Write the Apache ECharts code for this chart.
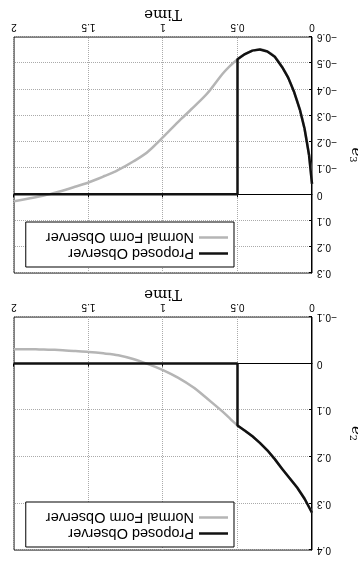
<!DOCTYPE html>
<html lang="en">
<head>
  <meta charset="UTF-8" />
  <title>Observer errors</title>
  <script src="https://cdn.jsdelivr.net/npm/echarts@6.0.0/dist/echarts.min.js"></script>
  <style>
    html, body { margin: 0; background: #fff; }
    /* the reference picture is printed upside down */
    #chart { width: 358px; height: 563px; transform: rotate(180deg); }
  </style>
</head>
<body>
  <div id="chart"></div>
  <script>
    // e2 panel
    const tE2Proposed = [0, 0.05, 0.1, 0.15, 0.2, 0.25, 0.3, 0.35, 0.4, 0.45, 0.5, 0.5, 2];
    const e2Proposed  = [0.320, 0.290, 0.266, 0.246, 0.226, 0.205, 0.186, 0.170, 0.156, 0.144, 0.133, 0, 0];
    const tE2Normal = [0, 0.05, 0.1, 0.15, 0.2, 0.25, 0.3, 0.35, 0.4, 0.45, 0.5, 0.55, 0.6, 0.7, 0.8, 0.9, 1.0, 1.1, 1.2, 1.3, 1.4, 1.5, 1.6, 1.7, 1.8, 1.9, 2.0];
    const e2Normal  = [0.320, 0.290, 0.266, 0.246, 0.226, 0.205, 0.186, 0.170, 0.156, 0.144, 0.133, 0.118, 0.103, 0.076, 0.050, 0.030, 0.014, 0.001, -0.010, -0.018, -0.022, -0.025, -0.027, -0.029, -0.030, -0.031, -0.031];

    // e3 panel
    const tE3Proposed = [0, 0.02, 0.05, 0.08, 0.12, 0.16, 0.2, 0.25, 0.3, 0.35, 0.4, 0.45, 0.5, 0.5, 2];
    const e3Proposed  = [-0.04, -0.15, -0.25, -0.32, -0.39, -0.445, -0.485, -0.525, -0.545, -0.552, -0.548, -0.535, -0.515, 0, 0];
    const tE3Normal = [0, 0.02, 0.05, 0.08, 0.12, 0.16, 0.2, 0.25, 0.3, 0.35, 0.4, 0.45, 0.5, 0.55, 0.6, 0.7, 0.8, 0.9, 1.0, 1.1, 1.2, 1.3, 1.4, 1.5, 1.6, 1.7, 1.8, 1.9, 2.0];
    const e3Normal  = [-0.04, -0.15, -0.25, -0.32, -0.39, -0.445, -0.485, -0.525, -0.545, -0.552, -0.548, -0.535, -0.515, -0.49, -0.46, -0.387, -0.33, -0.275, -0.218, -0.163, -0.125, -0.093, -0.068, -0.045, -0.027, -0.010, 0.005, 0.016, 0.026];

    const names = ['Proposed Observer', 'Normal Form Observer'];

    const pair = (t, v) => t.map((x, i) => [x, v[i]]);
    const sans = 'Liberation Sans, Arial, sans-serif';
    const serif = 'DejaVu Serif, serif';

    const makeX = (idx) => ({
      type: 'value', gridIndex: idx, min: 0, max: 2, interval: 0.5,
      name: 'Time', nameLocation: 'middle', nameGap: 15,
      nameTextStyle: { fontFamily: serif, fontSize: 15, color: '#000' },
      axisLine: { lineStyle: { color: '#000' } },
      axisTick: { inside: true, length: 3, lineStyle: { color: '#000' } },
      axisLabel: { fontFamily: sans, fontSize: 10, color: '#000', margin: 5 },
      splitLine: { show: true, lineStyle: { type: 'dotted', color: '#aaa' } }
    });
    const makeY = (idx, min, max, sub) => ({
      type: 'value', gridIndex: idx, min: min, max: max, interval: 0.1,
      name: '{e|e}{s|' + sub + '}', nameLocation: 'middle', nameGap: 31, nameRotate: 90,
      nameTextStyle: {
        rich: {
          e: { fontFamily: serif, fontStyle: 'italic', fontSize: 15, color: '#000' },
          s: { fontFamily: serif, fontSize: 10, color: '#000', verticalAlign: 'bottom', padding: [6, 0, 0, 0] }
        }
      },
      axisLine: { show: true, lineStyle: { color: '#000' } },
      axisTick: { inside: true, length: 3, lineStyle: { color: '#000' } },
      axisLabel: {
        fontFamily: sans, fontSize: 10, color: '#000', margin: 5,
        formatter: v => (Math.round(v * 10) / 10).toString().replace('-', '\u2212')
      },
      splitLine: { show: true, lineStyle: { type: 'dotted', color: '#aaa' } }
    });
    const makeLegend = (top) => ({
      top: top, left: 124, orient: 'vertical', data: names,
      backgroundColor: '#fff', borderColor: '#000', borderWidth: 1,
      padding: [6, 20, 8, 6], itemGap: 1, itemWidth: 29, itemHeight: 2.5, icon: 'rect',
      textStyle: { fontFamily: sans, fontSize: 14.5, color: '#000', lineHeight: 15 },
      selectedMode: false
    });
    const grayLine = { color: '#b5b5b5', width: 2.5 };
    const blackLine = { color: '#111', width: 2.5 };

    const chart = echarts.init(document.getElementById('chart'));
    chart.setOption({
      animation: false,
      grid: [
        { left: 46, right: 14, top: 13, height: 233, show: true, borderColor: '#000', borderWidth: 1,
          containLabel: false, outerBoundsMode: 'none' },
        { left: 46, right: 14, top: 290, height: 236, show: true, borderColor: '#000', borderWidth: 1,
          containLabel: false, outerBoundsMode: 'none' }
      ],
      xAxis: [makeX(0), makeX(1)],
      yAxis: [makeY(0, -0.1, 0.4, '2'), makeY(1, -0.6, 0.3, '3')],
      legend: [makeLegend(16), makeLegend(296)],
      series: [
        { name: names[1], type: 'line', xAxisIndex: 0, yAxisIndex: 0, symbol: 'none', smooth: 0.3,
          lineStyle: grayLine, itemStyle: { color: grayLine.color }, z: 2, data: pair(tE2Normal, e2Normal) },
        { name: names[0], type: 'line', xAxisIndex: 0, yAxisIndex: 0, symbol: 'none',
          lineStyle: blackLine, itemStyle: { color: blackLine.color }, z: 3, data: pair(tE2Proposed, e2Proposed) },
        { name: names[1], type: 'line', xAxisIndex: 1, yAxisIndex: 1, symbol: 'none', smooth: 0.3,
          lineStyle: grayLine, itemStyle: { color: grayLine.color }, z: 2, data: pair(tE3Normal, e3Normal) },
        { name: names[0], type: 'line', xAxisIndex: 1, yAxisIndex: 1, symbol: 'none',
          lineStyle: blackLine, itemStyle: { color: blackLine.color }, z: 3, data: pair(tE3Proposed, e3Proposed) }
      ]
    });
  </script>
</body>
</html>
